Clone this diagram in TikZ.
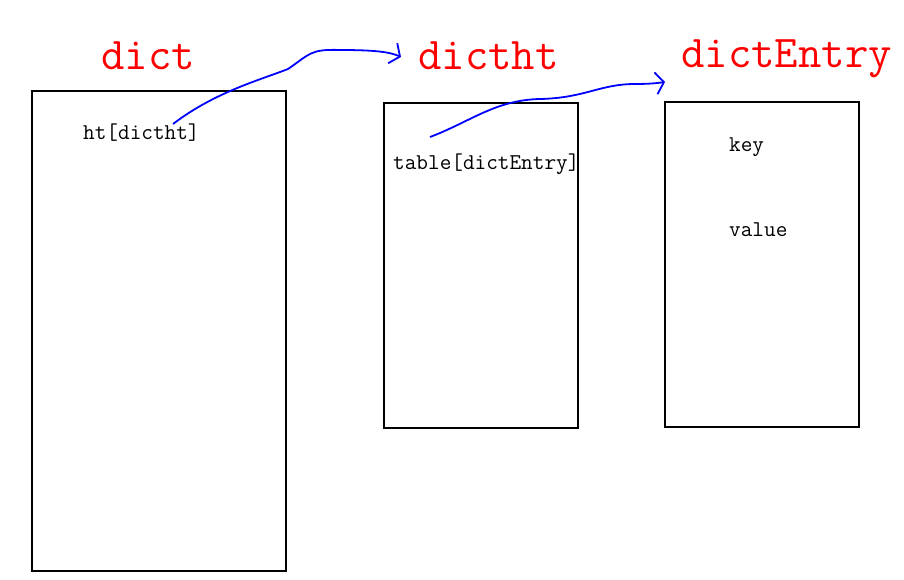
\documentclass[tikz,border=0pt]{standalone}
\usepackage{fontspec}
\usepackage{tikz}
\usepackage{xcolor}
\usetikzlibrary{arrows.meta}

\begin{document}
\begin{tikzpicture}[x=1pt,y=-1pt,
    box/.style={draw,line width=1.5pt},
    title/.style={anchor=base west,inner sep=0pt,text=red,font=\ttfamily\fontsize{45.5}{48}\selectfont},
    field/.style={anchor=base west,inner sep=0pt,font=\ttfamily\fontsize{22.6}{24}\selectfont},
    link/.style={-{Straight Barb[length=8pt,width=22pt]},blue,line width=1.8pt}]
  \useasboundingbox (0,0) rectangle (904,580);
  \foreach \xa/\ya/\xb/\yb in {32/91/286/571,384/103/578/428,665/102/859/427}
    \draw[box] (\xa,\ya) rectangle (\xb,\yb);
  \node[title] (tdict) at (101,70) {dict};
  \node[title] (tdictht) at (418,70) {dictht};
  \node[title] (tentry) at (681,68) {dictEntry};
  \node[field] (ht) at (83,140) {ht[dictht]};
  \node[field] (table) at (393,170) {table[dictEntry]};
  \node[field] (key) at (729,152) {key};
  \node[field] (value) at (729,236) {value};
  \coordinate (s1) at (173,124);
  \coordinate (e1) at ([xshift=-17pt,yshift=13pt]tdictht.base west);
  \coordinate (s2) at (430,137);
  \coordinate (e2) at ([xshift=-16pt,yshift=-14pt]tentry.base west);
  \draw[link] (s1) .. controls (215,92) and (260,80) .. (288,69)
    .. controls (310,54) and (310,49) .. (340,50)
    .. controls (375,50) and (390,52) .. (e1);
  \draw[link] (s2) .. controls (470,122) and (495,100) .. (540,99)
    .. controls (585,98) and (600,84) .. (635,84)
    .. controls (650,84) and (658,83) .. (e2);
%  \node[above right] at (32,91) {redis dict};
\end{tikzpicture}
\end{document}
